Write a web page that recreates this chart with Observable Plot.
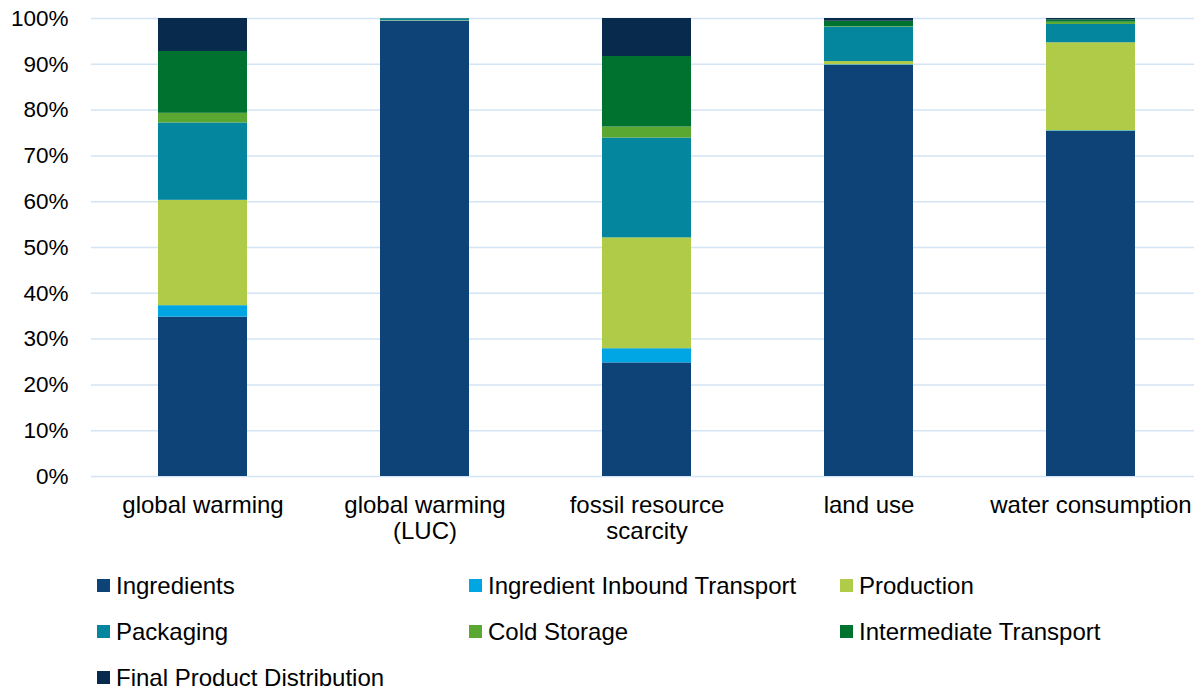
<!DOCTYPE html>
<html>
<head>
<meta charset="utf-8">
<script src="https://cdn.jsdelivr.net/npm/d3@7"></script>
<script src="https://cdn.jsdelivr.net/npm/@observablehq/plot@0.6"></script>
<style>
  html, body { margin: 0; background: #fff; font-family: "Liberation Sans", Arial, sans-serif; overflow: hidden; }
  #chart svg { display: block; }
  #legend { position: relative; width: 1194px; height: 130px; }
  .item { position: absolute; display: flex; align-items: center; font-size: 24px; line-height: 27px; color: #000; white-space: nowrap; }
  .sw { width: 13px; height: 13px; margin-right: 6px; }
</style>
</head>
<body>
<div id="chart"></div>
<div id="legend"></div>
<script>
const categories = ["global warming", "global warming\n(LUC)", "fossil resource\nscarcity", "land use", "water consumption"];
const stages = ["Ingredients", "Ingredient Inbound Transport", "Production", "Packaging", "Cold Storage", "Intermediate Transport", "Final Product Distribution"];
const colors = ["#0e4377", "#00a5e3", "#b0cb48", "#05869f", "#5aa832", "#007230", "#082a4c"];

const ingredients          = [34.8, 99.4, 24.8, 89.8, 75.4];
const inboundTransport     = [2.5, 0.0, 3.1, 0.1, 0.1];
const production           = [23.0, 0.1, 24.2, 0.7, 19.2];
const packaging            = [16.9, 0.4, 21.8, 7.5, 4.0];
const coldStorage          = [2.1, 0.0, 2.4, 0.1, 0.5];
const intermediateTransport= [13.5, 0.05, 15.4, 1.2, 0.5];
const finalDistribution    = [7.2, 0.05, 8.3, 0.6, 0.3];

const yTicks = [0, 10, 20, 30, 40, 50, 60, 70, 80, 90, 100];

const series = [ingredients, inboundTransport, production, packaging, coldStorage, intermediateTransport, finalDistribution];
const rows = [];
categories.forEach((c, i) => {
  stages.forEach((s, j) => rows.push({category: c, stage: s, value: series[j][i]}));
});

const chart = Plot.plot({
  width: 1194,
  height: 560,
  marginTop: 18,
  marginBottom: 84,
  marginLeft: 91,
  marginRight: 0,
  style: {fontFamily: "'Liberation Sans', Arial, sans-serif", fontSize: "23px", color: "#000", background: "#fff", overflow: "visible"},
  x: {domain: categories, range: [91, 1202], paddingInner: 0.6, paddingOuter: 0.3, label: null},
  y: {domain: [0, 100], label: null},
  color: {domain: stages, range: colors},
  marks: [
    Plot.ruleY(yTicks, {stroke: "#d3e4f5", strokeWidth: 1.5}),
    Plot.barY(rows, {x: "category", y: "value", fill: "stage", order: stages}),
    Plot.axisY({ticks: yTicks, tickFormat: d => d + "%", tickSize: 0, tickPadding: 23, fontSize: 22.5, fill: "#000", label: null}),
    Plot.axisX({tickSize: 0, tickPadding: 18, fontSize: 24, fill: "#000", lineHeight: 1.08, label: null})
  ]
});
chart.style.maxWidth = "none";
document.getElementById("chart").appendChild(chart);

const legend = document.getElementById("legend");
const colX = [97, 469, 840];
stages.forEach((s, i) => {
  const el = document.createElement("div");
  el.className = "item";
  el.style.left = colX[i % 3] + "px";
  el.style.top = (11.5 + Math.floor(i / 3) * 46) + "px";
  const sw = document.createElement("span");
  sw.className = "sw";
  sw.style.background = colors[i];
  el.appendChild(sw);
  el.appendChild(document.createTextNode(s));
  legend.appendChild(el);
});
</script>
</body>
</html>
